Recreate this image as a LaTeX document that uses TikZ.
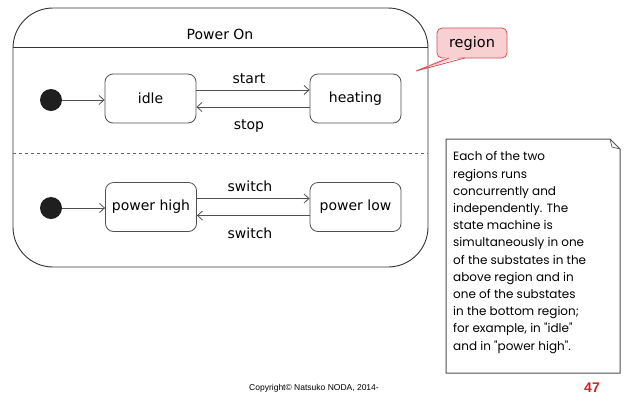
\documentclass[tikz,border=0pt]{standalone}
\usepackage{fontspec}
\setmainfont{DejaVu Sans}
\newfontfamily\notefont{Poppins}
\newfontfamily\arialfont{Liberation Sans}
\usetikzlibrary{arrows.meta}
\definecolor{linegray}{RGB}{80,80,80}
\definecolor{calloutfill}{RGB}{248,208,210}
\definecolor{calloutdraw}{RGB}{214,80,90}
\definecolor{pagered}{RGB}{200,40,40}
\begin{document}
\begin{tikzpicture}[x=1pt,y=-1pt,
  statebox/.style={draw=linegray, line width=0.8pt, rounded corners=8pt, minimum width=91pt, minimum height=49pt, font=\fontsize{14}{16}\selectfont, fill=white, inner sep=0pt},
  initdot/.style={circle, fill=black!88, minimum size=22pt, inner sep=0pt},
  trans/.style={-{Straight Barb[length=5pt,width=9pt]}, draw=linegray, line width=0.8pt},
  lbl/.style={font=\fontsize{14}{16}\selectfont, inner sep=0pt},
]
\useasboundingbox[fill=white] (0,0) rectangle (631,416);

% composite state
\node[draw=black!80, line width=0.9pt, rounded corners=40pt, minimum width=415pt, minimum height=259pt, inner sep=0pt] (outer) at (220.5,137.5) {};
\node[lbl] (title) at (220,34) {Power On};
\coordinate (tl) at (13,47);
\coordinate (tr) at (428,47);
\draw[black!80, line width=0.9pt] (tl) -- (tr);
\coordinate (dl) at (13,153);
\coordinate (dr) at (428,153);
\draw[black!60, line width=0.8pt, dash pattern=on 3pt off 3pt] (dl) -- (dr);

% upper region
\node[initdot] (i1) at (51,100) {};
\node[statebox] (idle) at (150.5,98.5) {idle};
\node[statebox] (heating) at (355.5,98.5) {heating};
\draw[trans] (i1) -- (idle.west |- i1);
\draw[trans] ([yshift=8.5pt]idle.east) -- ([yshift=8.5pt]heating.west);
\draw[trans] ([yshift=-8.5pt]heating.west) -- ([yshift=-8.5pt]idle.east);
\node[lbl] (start) at (249,79) {start};
\node[lbl] (stop) at (249,126) {stop};

% lower region
\node[initdot] (i2) at (51,208) {};
\node[statebox] (high) at (151,207) {power high};
\node[statebox] (low) at (355.5,207) {power low};
\draw[trans] (i2) -- (high.west |- i2);
\draw[trans] ([yshift=8.5pt]high.east) -- ([yshift=8.5pt]low.west);
\draw[trans] ([yshift=-8.5pt]low.west) -- ([yshift=-8.5pt]high.east);
\node[lbl] (sw1) at (250,186) {switch};
\node[lbl] (sw2) at (250,233) {switch};

% region callout
\node[draw=calloutdraw, fill=calloutfill, line width=0.8pt, rounded corners=5pt, minimum width=70pt, minimum height=30pt, font=\fontsize{14.5}{16}\selectfont, inner sep=0pt] (region) at (472,43) {region};
\coordinate (tip) at (416,71);
\coordinate (pa) at (449,58);
\coordinate (pb) at (465,58);
\fill[calloutfill] ([yshift=2pt]pa) -- (tip) -- ([yshift=2pt]pb) -- cycle;
\draw[calloutdraw, line width=0.8pt] (pa) -- (tip) -- (pb);

% note
\coordinate (n1) at (446,139);
\coordinate (n2) at (610,139);
\coordinate (n3) at (620,149);
\coordinate (n4) at (620,373);
\coordinate (n5) at (446,373);
\coordinate (nf) at (612,147);
\draw[linegray, line width=1pt, fill=white] (n1) -- (n2) -- (n3) -- (n4) -- (n5) -- cycle;
\draw[linegray, line width=0.7pt] (n2) -- (nf) -- (n3);
\node[anchor=north west, align=left, inner sep=0pt, font=\notefont\fontsize{12}{17.2}\selectfont] (notetext) at (453,151.5) {Each of the two\\regions runs\\concurrently and\\independently. The\\state machine is\\simultaneously in one\\of the substates in the\\above region and in\\one of the substates\\in the bottom region;\\for example, in "idle"\\and in "power high".};

% footer
\node[font=\arialfont\fontsize{8.5}{10}\selectfont, inner sep=0pt] (copy) at (314,388) {Copyright© Natsuko NODA, 2014-};
\node[font=\arialfont\bfseries\fontsize{14}{16}\selectfont, text=pagered, inner sep=0pt] (page) at (592,388) {47};
\end{tikzpicture}
\end{document}
